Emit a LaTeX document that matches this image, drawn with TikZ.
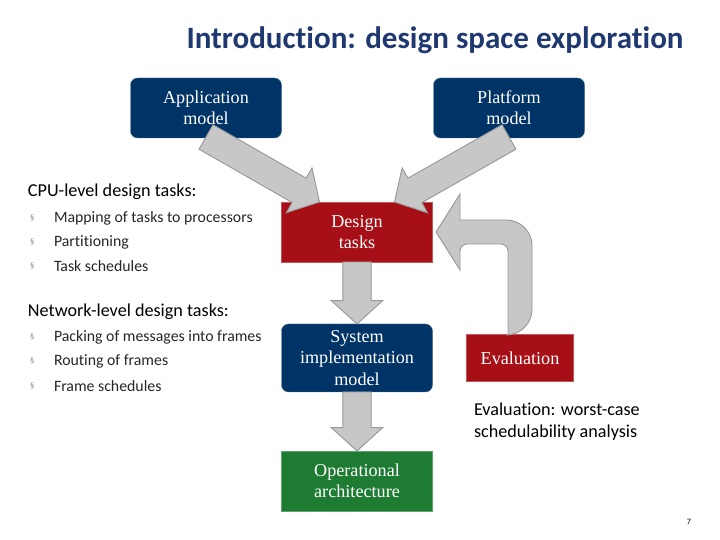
\documentclass[tikz,border=0pt]{standalone}
\usepackage{fontspec}
\setmainfont[Ligatures=NoCommon]{Carlito}
\newfontfamily\boxfont{Liberation Serif}
\usetikzlibrary{calc}
\definecolor{navy}{HTML}{003366}
\definecolor{darkred}{HTML}{A50F15}
\definecolor{darkgreen}{HTML}{1E7B32}
\definecolor{titleblue}{HTML}{1F3870}
\begin{document}
\begin{tikzpicture}[x=0.03cm,y=-0.03cm,inner sep=0pt,outer sep=0pt,
box/.style={minimum width=151*0.03cm,minimum height=60*0.03cm,align=center,text=white,font=\boxfont\fontsize{15.5}{18}\selectfont},
navybox/.style={box,fill=navy,draw=navy!70,rounded corners=6pt},
redbox/.style={box,fill=darkred,draw=darkred!70},
greenbox/.style={box,fill=darkgreen,draw=darkgreen!70},
blockarr/.style={fill=black!22,draw=black!40,line width=0.8pt},
item/.style={anchor=west,font=\fontsize{13.5}{16}\selectfont,text=black!85},
bul/.style={anchor=west,font=\fontsize{7}{8}\selectfont,text=black!50},
head/.style={anchor=west,font=\fontsize{15.5}{18}\selectfont}]
\useasboundingbox (0,0) rectangle (720,540);

\node[font=\bfseries\fontsize{26.5}{30}\selectfont,text=titleblue] (title) at (435,40) {Introduction: design space exploration};

\node[navybox] (app) at (206,108) {Application\\model};
\node[navybox] (plat) at (509,108) {Platform\\model};
\node[redbox] (design) at (357,232) {Design\\tasks};
\node[navybox,minimum height=68*0.03cm] (sys) at (357,358) {System\\implementation\\model};
\node[redbox,minimum width=107*0.03cm,minimum height=47*0.03cm] (eval) at (520,358) {Evaluation};
\node[greenbox] (oper) at (357,481) {Operational\\architecture};

% block arrows
\newcommand{\blockarrow}[2]{%
  \coordinate (ba) at #1; \coordinate (bb) at #2;
  \coordinate (bh) at ($(bb)!20pt!(ba)$);
  \draw[blockarr] ($(ba)!12pt!90:(bb)$) -- ($(bh)!12pt!-90:(ba)$) -- ($(bh)!22pt!-90:(ba)$)
    -- (bb) -- ($(bh)!22pt!90:(ba)$) -- ($(bh)!12pt!90:(ba)$) -- ($(ba)!12pt!-90:(bb)$) -- cycle;}
\blockarrow{($(app.south)+(0,-1)$)}{($(design.north west)+(38,0)$)}
\blockarrow{($(plat.south)+(0,-1)$)}{($(design.north east)+(-38,0)$)}
\blockarrow{(design.south)}{(sys.north)}
\blockarrow{(sys.south)}{(oper.north)}
\draw[blockarr] (508,335) [rounded corners=6pt] |- (460,244) [sharp corners] -- (460,270)
  -- (436,232) -- (460,194) -- (460,220) [rounded corners=22pt] -| (532,335) [sharp corners] -- cycle;

% task lists
\node[head] (cpu) at (28,192) {CPU-level design tasks:};
\foreach \y/\t in {218/Mapping of tasks to processors,242/Partitioning,266/Task schedules}{
  \node[bul] at (30,\y) {\S}; \node[item] at (54,\y) {\t};}
\node[head] (net) at (28,312) {Network-level design tasks:};
\foreach \y/\t in {337/Packing of messages into frames,361/Routing of frames,386/Frame schedules}{
  \node[bul] at (30,\y) {\S}; \node[item] at (54,\y) {\t};}

\node[anchor=north west,align=left,font=\fontsize{15.5}{18.5}\selectfont] (evaltxt) at (474,403) {Evaluation: worst-case\\schedulability analysis};
\node[font=\fontsize{7}{8}\selectfont] (page) at (689,522) {7};
\end{tikzpicture}
\end{document}
